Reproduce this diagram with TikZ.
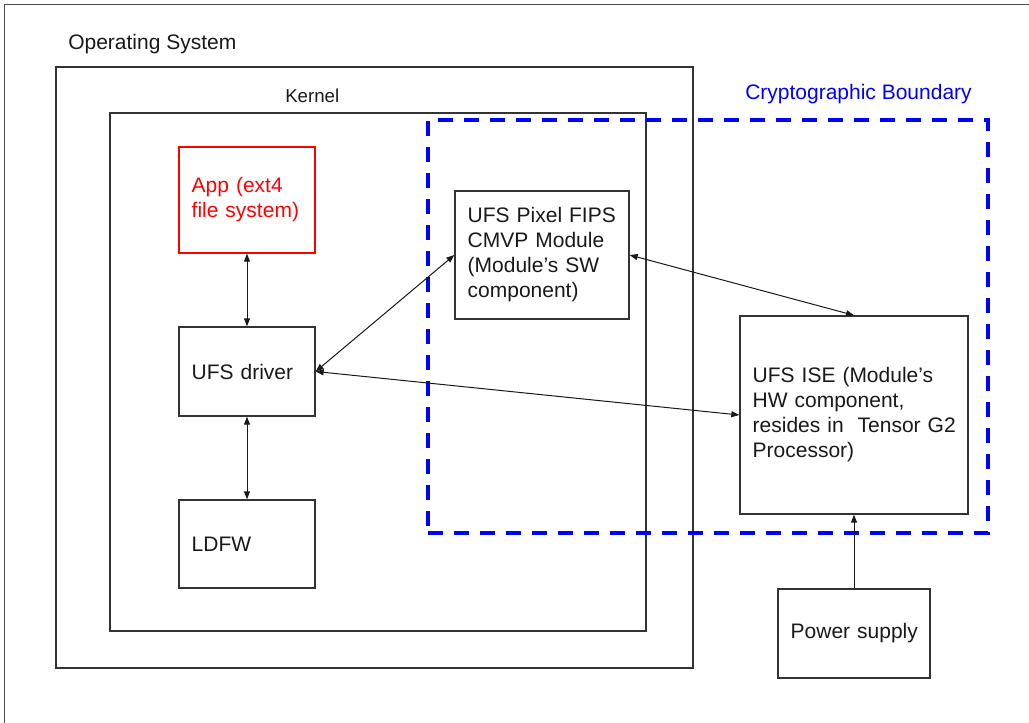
\documentclass[tikz,border=0pt]{standalone}
\usepackage{fontspec}
\setmainfont{Liberation Sans}
\usetikzlibrary{arrows.meta}
\newcommand\fs{\fontsize{15.75pt}{18.75pt}\selectfont\hyphenpenalty=10000\exhyphenpenalty=10000}
\newcommand\fk{\fontsize{14pt}{17pt}\selectfont}
\begin{document}
\begin{tikzpicture}[x=0.75pt,y=-0.75pt,
  box/.style={draw=black!80, line width=1pt, rectangle, inner xsep=9.5pt, inner ysep=0pt, align=left, font=\fs, text=black!90},
  cont/.style={draw=black!80, line width=1pt, rectangle, inner sep=0pt},
  bnd/.style={draw=blue, line width=3pt, rectangle, inner sep=0pt, dash pattern=on 11.25pt off 8.25pt},
  lbl/.style={anchor=base west, inner sep=0pt, font=\fs, text=black!90},
  tip/.tip={Triangle[length=6pt,width=4.5pt]},
  link/.style={line width=0.75pt, draw=black!90, tip-tip},
  feed/.style={line width=0.75pt, draw=black!90, -tip},
]
\useasboundingbox (0,0) rectangle (1029,723);
% outer frame (partially visible)
\coordinate (fr0) at (4.5,723);
\coordinate (fr1) at (4.5,4.5);
\coordinate (fr2) at (1029,4.5);
\draw[line width=1pt, black!70] (fr0) -- (fr1) -- (fr2);

% containers
\node[cont, minimum width=477.75pt, minimum height=450.75pt] (os) at (374.5,367.5) {};
\node[cont, minimum width=402pt, minimum height=388.5pt] (kernel) at (378,372) {};
\node[bnd, minimum width=420pt, minimum height=309.75pt] (boundary) at (708,326.5) {};

% labels
\node[lbl] (oslbl) at (68,50) {Operating System};
\node[lbl, font=\fk] (klbl) at (285,103) {Kernel};
\node[lbl, text=blue] (blbl) at (745,100) {Cryptographic Boundary};

% boxes
\node[box, draw=red, text=red, text width=83pt, minimum height=79.5pt] (app) at (247,200) {App (ext4\\file~system)};
\node[box, text width=83pt, minimum height=66.75pt] (driver) at (247,371.5) {UFS~driver};
\node[box, text width=83pt, minimum height=66pt] (ldfw) at (247,544) {LDFW};
\node[box, text width=111.5pt, minimum height=96pt] (sw) at (542,255) {UFS~Pixel~FIPS\\CMVP~Module\\(Module’s~SW\\component)};
\node[box, text width=152pt, minimum height=148.5pt] (ise) at (854,415) {UFS~ISE~(Module’s\\HW~component,\\resides~in~~Tensor~G2\\Processor)};
\node[box, text width=95pt, minimum height=66.75pt] (power) at (854,633.5) {Power~supply};

% connectors
\draw[link] (app.south) -- (driver.north);
\draw[link] (driver.south) -- (ldfw.north);
\draw[link] (driver.east) -- (sw.west);
\draw[link] (driver.east) -- (ise.west);
\draw[link] (sw.east) -- (ise.north);
\draw[feed] (power.north) -- (ise.south);
\end{tikzpicture}
\end{document}
